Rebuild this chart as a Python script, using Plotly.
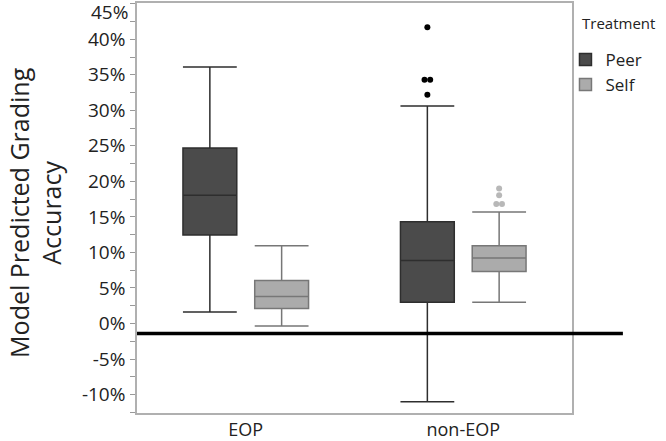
import plotly.graph_objects as go

categories = ["EOP", "non-EOP"]
treatments = ["Peer", "Self"]

# box statistics (percent)
peer_lower = [1.6, -11.0]
peer_q1 = [12.45, 3.0]
peer_median = [18.05, 8.85]
peer_q3 = [24.7, 14.3]
peer_upper = [36.1, 30.6]
peer_outliers = [[], [41.7, 34.3, 34.3, 32.2]]

self_lower = [-0.35, 3.0]
self_q1 = [2.1, 7.3]
self_median = [3.8, 9.2]
self_q3 = [6.05, 10.95]
self_upper = [10.95, 15.7]
self_outliers = [[], [19.0, 18.05, 16.8, 16.8]]

reference_line = -1.4
y_ticks = [-10, -5, 0, 5, 10, 15, 20, 25, 30, 35, 40, 45]

FONT = "Open Sans"
offset = 0.165
width = 0.2475

series = [
    dict(name="Peer", lower=peer_lower, q1=peer_q1, med=peer_median, q3=peer_q3,
         upper=peer_upper, outl=peer_outliers, fill="#4b4b4b", line="#2e2e2e",
         pt="#000000", off=-offset),
    dict(name="Self", lower=self_lower, q1=self_q1, med=self_median, q3=self_q3,
         upper=self_upper, outl=self_outliers, fill="#ababab", line="#777777",
         pt="#b8b8b8", off=offset),
]

fig = go.Figure()
for s in series:
    xs = [i + s["off"] for i in range(len(categories))]
    fig.add_trace(go.Box(
        name=s["name"], x=xs, q1=s["q1"], median=s["med"], q3=s["q3"],
        lowerfence=s["lower"], upperfence=s["upper"], width=width,
        whiskerwidth=1.0, fillcolor=s["fill"],
        line=dict(color=s["line"], width=1.5), boxpoints=False,
        hoverinfo="skip"))
    # outliers with dodge for duplicates
    ox, oy = [], []
    for i, vals in enumerate(s["outl"]):
        counts = {}
        for v in vals:
            counts[v] = counts.get(v, 0) + 1
        seen = {}
        for v in vals:
            n = counts[v]
            k = seen.get(v, 0)
            seen[v] = k + 1
            d = (k - (n - 1) / 2) * 0.026
            ox.append(i + s["off"] + d)
            oy.append(v)
    fig.add_trace(go.Scatter(x=ox, y=oy, mode="markers",
                             marker=dict(color=s["pt"], size=6),
                             showlegend=False, hoverinfo="skip"))

fig.add_shape(type="line", xref="paper", yref="y", x0=0, x1=1.117,
              y0=reference_line, y1=reference_line,
              line=dict(color="black", width=3.5))

# top tick label placed inside the canvas
top_tick = y_ticks[-1]
fig.add_annotation(text=f"{top_tick}%", xref="paper", yref="y", x=0, y=top_tick,
                   xanchor="right", yanchor="middle", xshift=-7, yshift=-8,
                   showarrow=False, font=dict(size=19, family=FONT, color="#222222"))

fig.add_annotation(text="Model Predicted Grading<br>Accuracy", xref="paper",
                   yref="paper", x=-0.235, y=0.49, xanchor="center", yanchor="middle",
                   textangle=-90, showarrow=False,
                   font=dict(size=25, family=FONT, color="#222222"))

fig.add_annotation(text="Treatment", xref="paper", yref="paper", x=1.018, y=0.952,
                   xanchor="left", yanchor="middle", showarrow=False,
                   font=dict(size=15, family=FONT, color="#222222"))

fig.update_layout(
    width=666, height=441,
    margin=dict(l=137, r=94, t=3, b=28),
    paper_bgcolor="white", plot_bgcolor="white",
    font=dict(family=FONT, color="#222222"),
    legend=dict(x=0.985, xanchor="left", y=0.905, yanchor="top",
                font=dict(size=17, family=FONT), tracegroupgap=0,
                itemwidth=30, bgcolor="rgba(0,0,0,0)"),
    showlegend=True,
)
fig.update_xaxes(
    range=[-0.5, 1.5], tickvals=list(range(len(categories))), ticktext=categories,
    showgrid=False, zeroline=False, showline=True, linecolor="#b0b0b0",
    linewidth=1.5, mirror=True, ticks="", tickfont=dict(size=18, family=FONT),
    automargin=False, ticklabelstandoff=0)
fig.update_yaxes(
    range=[-12.6, 45.1], tickvals=y_ticks[:-1],
    ticktext=[f"{v}%" for v in y_ticks[:-1]],
    showgrid=False, zeroline=False, showline=True, linecolor="#b0b0b0",
    linewidth=1.5, mirror=True, ticks="outside", ticklen=5, tickcolor="#999999",
    minor=dict(ticks="outside", ticklen=5, dtick=2.5, tickcolor="#999999"),
    tickfont=dict(size=19, family=FONT), automargin=False, ticklabelstandoff=1)

fig.write_html("out.html", config={"displayModeBar": False},
               post_script="document.body.style.margin='0';")
